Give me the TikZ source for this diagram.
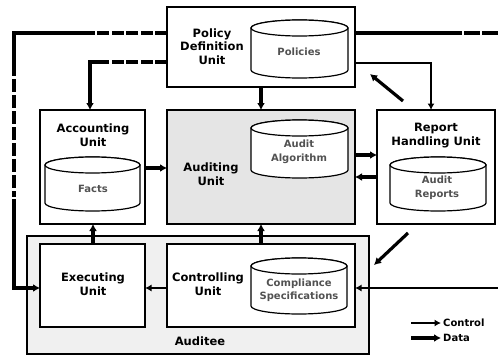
\documentclass[tikz,border=0pt]{standalone}
\usepackage{fontspec}
\setmainfont{DejaVu Sans}
\usetikzlibrary{arrows.meta,calc}
\newcommand\mycyl[6]{% x0 y0 x1 y1 ry name
  \pgfmathsetmacro\cylcx{(#1+#3)/2}%
  \pgfmathsetmacro\cylrx{(#3-#1)/2}%
  \draw[cylst] (#1,{#2+#5}) -- (#1,{#4-#5})
     arc[start angle=180,end angle=0,x radius=\cylrx,y radius=#5]
     -- (#3,{#2+#5})
     arc[start angle=0,end angle=-180,x radius=\cylrx,y radius=#5] -- cycle;
  \draw[cylst] (\cylcx,{#2+#5}) ellipse[x radius=\cylrx,y radius=#5];
  \coordinate (#6) at (\cylcx,{(#2+#4)/2});
}
\begin{document}
\begin{tikzpicture}[x=1pt,y=-1pt,
  box/.style={draw, line width=1.5pt, outer sep=0pt, inner sep=0pt, anchor=north west},
  hd/.style={font=\bfseries\fontsize{11.5}{13.5}\selectfont, align=center, inner sep=0pt},
  inr/.style={font=\bfseries\fontsize{10}{13.5}\selectfont, align=center, inner sep=0pt, text=black!68},
  cylst/.style={line width=1.2pt, fill=white},
  thk/.style={line width=4pt},
  mid/.style={line width=3.3pt},
  dsh/.style={dash pattern=on 12pt off 2.5pt},
  tip/.style={-{Latex[length=7pt,width=8pt]}},
  data/.style={line width=3.2pt, -{Latex[length=7pt,width=8pt]}},
  ctrl/.style={line width=2.2pt, -{Latex[length=6.5pt,width=7pt]}}
]
\useasboundingbox (0,0) rectangle (498,356);
\fill[white] (0,0) rectangle (498,356);

% boxes
\node[box, minimum width=342pt, minimum height=118pt, fill=gray!12] (aue) at (27,236) {};
\node[box, minimum width=188pt, minimum height=80pt, fill=white] (pdu) at (167,7) {};
\node[box, minimum width=105pt, minimum height=114pt, fill=white] (acc) at (40,110) {};
\node[box, minimum width=188pt, minimum height=114pt, fill=gray!20] (aud) at (167,110) {};
\node[box, minimum width=118pt, minimum height=114pt, fill=white] (rep) at (377,110) {};
\node[box, minimum width=105pt, minimum height=83pt, fill=white] (exe) at (40,244) {};
\node[box, minimum width=188pt, minimum height=83pt, fill=white] (ctl) at (167,244) {};

% cylinders
\mycyl{251}{20}{348}{78}{8}{cpol}
\mycyl{251}{120}{348}{178}{8}{calg}
\mycyl{45}{157}{140}{211}{8}{cfac}
\mycyl{390}{157}{486}{211}{8}{crep}
\mycyl{251}{258}{347}{314}{8}{ccmp}

\node[inr] (tpol) at (299,52) {Policies};
\node[inr] (talg) at (299,152) {Audit\\Algorithm};
\node[inr] (tfac) at (93,189) {Facts};
\node[inr] (trep) at (437,187.5) {Audit\\Reports};
\node[inr] (tcmp) at (299,290) {Compliance\\Specifications};

% headings
\node[hd] (hpdu) at (212,46.5) {Policy\\Definition\\Unit};
\node[hd] (hacc) at (93,135) {Accounting\\Unit};
\node[hd] (haud) at (211,174) {Auditing\\Unit};
\node[hd] (hrep) at (436,135.5) {Report\\Handling Unit};
\node[hd] (hexe) at (93,284) {Executing\\Unit};
\node[hd] (hctl) at (208,284) {Controlling\\Unit};
\node[hd] (haue) at (200,341) {Auditee};

% top-left long control line
\coordinate (a1) at (14,33);
\coordinate (a2) at (14,288);
\coordinate (b1) at (88,33);
\coordinate (b2) at (14,63);
\coordinate (b3) at (14,197);
\draw[thk, dsh] (pdu.west |- a1) -- (b1);
\draw[thk] (b1) -- (a1) -- (b2);
\draw[thk, dash pattern=on 13pt off 3pt] (b2) -- (b3);
\draw[thk, tip] ($(b3)+(0,2)$) -- (a2) -- (exe.west |- a2);

% policy -> accounting
\coordinate (d1) at (90,62);
\coordinate (d2) at (103,62);
\draw[mid, dsh] (pdu.west |- d1) -- (d2);
\draw[mid, tip] (d2) -- (d1) -- (acc.north -| d1);

% policy -> auditing
\coordinate (e1) at (261,0);
\draw[data] (pdu.south -| e1) -- (aud.north -| e1);

% policy -> report handling
\coordinate (f1) at (431,63);
\draw[ctrl] (pdu.east |- f1) -- (f1) -- (rep.north -| f1);

% report -> policy (diagonal)
\coordinate (g1) at (403,101);
\coordinate (g2) at (370,74);
\draw[data] (g1) -- (g2);

% top-right long line
\coordinate (h0) at (462,33);
\coordinate (h1) at (498,33);
\draw[thk] (pdu.east |- h0) -- (h0);
\draw[thk, dash pattern=on 16pt off 2pt] ($(h0)+(2,0)$) -- (h1);

% data arrows
\coordinate (i1) at (0,168);
\draw[data] (acc.east |- i1) -- (aud.west |- i1);
\coordinate (i2) at (0,155);
\draw[data] (aud.east |- i2) -- (rep.west |- i2);
\coordinate (i3) at (0,177);
\draw[data] (rep.west |- i3) -- (aud.east |- i3);
\coordinate (j1) at (93,0);
\draw[data] (exe.north -| j1) -- (acc.south -| j1);
\coordinate (j2) at (261,0);
\draw[data] (ctl.north -| j2) -- (aud.south -| j2);

% controlling -> executing
\coordinate (k0) at (0,288);
\draw[ctrl] (ctl.west |- k0) -- (exe.east |- k0);

% report -> auditee (diagonal)
\coordinate (m1) at (408,233);
\coordinate (m2) at (374,265);
\draw[data] (m1) -- (m2);

% right line into controlling
\coordinate (k1) at (498,288);
\draw[ctrl] (k1) -- (ctl.east |- k1);

% legend
\coordinate (l1) at (411,323);
\coordinate (l2) at (441,323);
\coordinate (l3) at (411,338);
\coordinate (l4) at (441,338);
\draw[ctrl] (l1) -- (l2);
\draw[data] (l3) -- (l4);
\node[hd, anchor=west, font=\bfseries\fontsize{10}{12}\selectfont] (lc) at (443,323) {Control};
\node[hd, anchor=west, font=\bfseries\fontsize{10}{12}\selectfont] (ld) at (443,338) {Data};
\end{tikzpicture}
\end{document}
